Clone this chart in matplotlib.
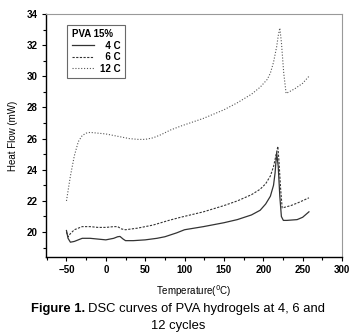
import numpy as np
import matplotlib
matplotlib.use("Agg")
import matplotlib.pyplot as plt
from matplotlib.ticker import MultipleLocator

plt.rcParams['font.family'] = ['Liberation Sans', 'DejaVu Sans']

# curve readings (temperature C, heat flow mW)
t_4c = [-50, -48, -45, -40, -30, -20, -10, 0, 10, 15, 18, 22, 25, 35, 50, 65, 75, 90, 100,
        124, 150, 167, 185, 196, 203, 209, 213, 215, 217, 219, 221, 223, 225.5, 230, 243, 250, 258]
hf_4c = [20.1, 19.6, 19.35, 19.4, 19.6, 19.6, 19.55, 19.5, 19.6, 19.7, 19.72, 19.55, 19.45, 19.45, 19.5, 19.6, 19.7, 19.95, 20.15,
         20.35, 20.6, 20.8, 21.1, 21.4, 21.8, 22.3, 23.0, 23.8, 25.1, 24.2, 22.3, 21.0, 20.75, 20.75, 20.8, 20.95, 21.3]

t_6c = [-50, -48, -45, -40, -30, -20, -10, 0, 10, 15, 20, 25, 40, 60, 80, 95,
        124, 150, 167, 185, 196, 203, 209, 213, 216, 218.5, 220, 222, 224, 235, 245, 258]
hf_6c = [20.0, 19.7, 19.9, 20.15, 20.35, 20.35, 20.3, 20.3, 20.35, 20.35, 20.2, 20.15, 20.25, 20.45, 20.75, 20.95,
         21.3, 21.7, 22.0, 22.4, 22.75, 23.1, 23.6, 24.2, 24.9, 25.5, 24.5, 22.8, 21.55, 21.7, 21.9, 22.2]

t_12c = [-50, -45, -40, -35, -30, -25, -20, -10, 0, 10, 20, 30, 41, 50, 60, 70, 82, 95,
         124, 150, 167, 185, 196, 205, 209, 213, 217, 219, 221, 223, 226, 229, 240, 250, 258]
hf_12c = [22.0, 23.6, 24.9, 25.8, 26.2, 26.35, 26.4, 26.35, 26.3, 26.2, 26.1, 26.0, 25.95, 25.95, 26.05, 26.25, 26.55, 26.8,
          27.3, 27.85, 28.3, 28.85, 29.3, 29.8, 30.2, 30.9, 31.9, 32.6, 33.1, 32.2, 30.2, 28.9, 29.2, 29.55, 30.0]

labels = ['\u20074 C', '\u20076 C', '12 C']

fig = plt.figure(figsize=(3.56, 3.35), dpi=100)
ax = fig.add_axes([46 / 356, 1 - 257 / 335, (342 - 46) / 356, (257 - 14) / 335])

ax.plot(t_4c, hf_4c, color='#333333', lw=0.9, ls='-', label=labels[0])
ax.plot(t_6c, hf_6c, color='#333333', lw=0.8, ls=(0, (2, 1.3)), label=labels[1])
ax.plot(t_12c, hf_12c, color='#555555', lw=0.8, ls=(0, (1, 1.6)), label=labels[2])

ax.set_xlim(-76, 300)
ax.set_ylim(18.4, 34)
ax.xaxis.set_major_locator(MultipleLocator(50))
ax.xaxis.set_minor_locator(MultipleLocator(25))
ax.yaxis.set_major_locator(MultipleLocator(2))
ax.yaxis.set_minor_locator(MultipleLocator(1))
ax.tick_params(which='both', direction='out', labelsize=7, width=0.8, top=False, right=False)
ax.tick_params(which='major', length=3, pad=3)
ax.tick_params(which='minor', length=2)
for lab in ax.get_xticklabels() + ax.get_yticklabels():
    lab.set_fontweight('bold')
ax.spines['left'].set_linewidth(1.0)
ax.spines['bottom'].set_linewidth(1.0)
ax.spines['top'].set_color('#999999')
ax.spines['right'].set_color('#999999')
ax.set_xlabel('Temperature($^0$C)', fontsize=7, labelpad=6)
ax.set_ylabel('Heat Flow (mW)', fontsize=7, labelpad=6)

leg = ax.legend(title='PVA 15%', loc='upper left', bbox_to_anchor=(0.055, 0.975), fontsize=7,
                title_fontsize=7, frameon=True, fancybox=False, edgecolor='#444444',
                handlelength=2.3, handletextpad=0.6, labelspacing=0.15, borderpad=0.45,
                alignment='left')
leg.get_title().set_fontweight('bold')
leg.get_frame().set_linewidth(0.8)
for txt in leg.get_texts():
    txt.set_fontweight('bold')

# caption: bold "Figure 1." followed by normal text, centred as one line
cap_size = 9.4
cap1 = fig.text(0, 1 - 309 / 335, 'Figure 1.', ha='left', va='center',
                fontsize=cap_size, fontweight='bold')
cap2 = fig.text(0, 1 - 309 / 335, 'DSC curves of PVA hydrogels at 4, 6 and',
                ha='left', va='center', fontsize=cap_size)
fig.canvas.draw()
w1 = cap1.get_window_extent().width
w2 = cap2.get_window_extent().width
gap = 3
x0 = (fig.bbox.width - (w1 + gap + w2)) / 2
cap1.set_x(x0 / fig.bbox.width)
cap2.set_x((x0 + w1 + gap) / fig.bbox.width)
fig.text(0.5, 1 - 326 / 335, '12 cycles', ha='center', va='center', fontsize=cap_size)

fig.savefig('out.png', dpi=100)
